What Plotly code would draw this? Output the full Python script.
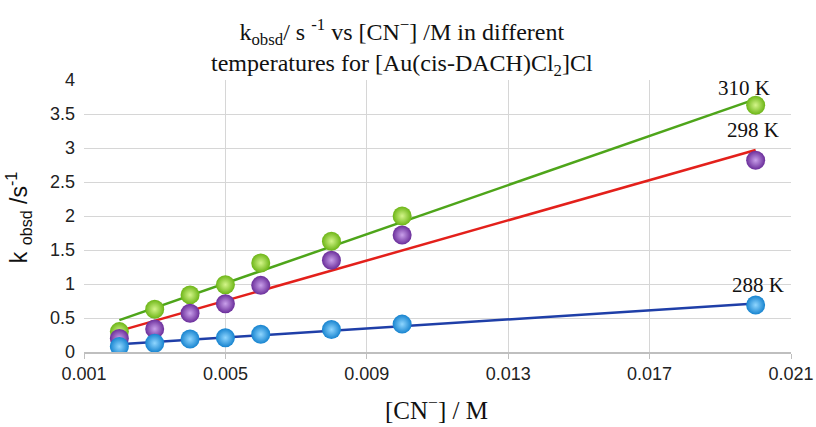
import numpy as np
import plotly.graph_objects as go

conc = [0.002, 0.003, 0.004, 0.005, 0.006, 0.008, 0.010, 0.020]
k_310 = [0.30, 0.63, 0.84, 0.99, 1.31, 1.63, 2.00, 3.63]
k_298 = [0.20, 0.34, 0.57, 0.71, 0.98, 1.35, 1.72, 2.82]
k_288 = [0.08, 0.13, 0.19, 0.21, 0.26, 0.33, 0.41, 0.69]
labels = ["310 K", "298 K", "288 K"]
x_ticks = [0.001, 0.005, 0.009, 0.013, 0.017, 0.021]
y_ticks = [0, 0.5, 1, 1.5, 2, 2.5, 3, 3.5, 4]

series = [
    (k_310, "#6cb516", "#d4f58a", "#4ea51a", labels[0], 3.88, -12),
    (k_298, "#6a2d9a", "#c9a0ea", "#e3201b", labels[1], 3.27, -3),
    (k_288, "#1683cf", "#8fd6ff", "#1f3fa8", labels[2], 0.98, 2),
]

fig = go.Figure()
xs = np.array(conc)
for ys, mc, gc, lc, name, ly, dx in series:
    slope, icpt = np.polyfit(xs, np.array(ys), 1)
    xl = [xs.min(), xs.max()]
    fig.add_trace(go.Scatter(x=xl, y=[slope * v + icpt for v in xl], mode="lines",
                             line=dict(color=lc, width=2.5), showlegend=False, hoverinfo="skip"))
for ys, mc, gc, lc, name, ly, dx in series:
    fig.add_trace(go.Scatter(x=conc, y=ys, mode="markers", name=name, showlegend=False,
                             marker=dict(size=19, color=mc,
                                         gradient=dict(type="radial", color=gc),
                                         line=dict(width=0))))
    fig.add_annotation(x=conc[-1], y=ly, text=name, showarrow=False, xshift=dx,
                       font=dict(family="Liberation Serif", size=21, color="#111"),
                       xanchor="center", yanchor="middle")

fig.add_annotation(xref="paper", yref="paper", x=0.45, y=1.121, xanchor="center", yanchor="middle",
                   text="k<sub>obsd</sub>/ s <sup>-1</sup> vs [CN<sup>−</sup>] /M in different<br>temperatures for [Au(cis-DACH)Cl<sub>2</sub>]Cl",
                   showarrow=False, align="center",
                   font=dict(family="Liberation Serif", size=24, color="#111"))
fig.add_annotation(xref="paper", yref="paper", x=0.499, y=-0.206, xanchor="center", yanchor="middle",
                   text="[CN<sup>−</sup>] / M", showarrow=False,
                   font=dict(family="Liberation Serif", size=25, color="#111"))
fig.add_annotation(xref="paper", yref="paper", x=-0.093, y=0.493, xanchor="center", yanchor="middle",
                   text="k <sub>obsd</sub> /s<sup>-1</sup>", showarrow=False, textangle=-90,
                   font=dict(family="Liberation Sans", size=23, color="#111"))

fig.update_layout(
    width=816, height=427,
    margin=dict(l=84, r=25, t=80, b=75),
    paper_bgcolor="white", plot_bgcolor="white",
    xaxis=dict(range=[0.001, 0.021], tickvals=x_ticks, ticktext=[str(v) for v in x_ticks],
               automargin=False,
               showgrid=True, gridcolor="#d6d6d6", gridwidth=1.2, zeroline=False,
               showline=True, linecolor="#bfbfbf", linewidth=1.5,
               ticks="outside", ticklen=5, tickcolor="#bfbfbf",
               tickfont=dict(family="Liberation Sans", size=18, color="#222")),
    yaxis=dict(range=[0, 4], tickvals=y_ticks, ticktext=[str(v) for v in y_ticks],
               automargin=False,
               showgrid=True, gridcolor="#d6d6d6", gridwidth=1.2, zeroline=False,
               showline=False, ticks="", ticklabelstandoff=8,
               tickfont=dict(family="Liberation Sans", size=18, color="#222")),
)
fig.write_html("out.html")
